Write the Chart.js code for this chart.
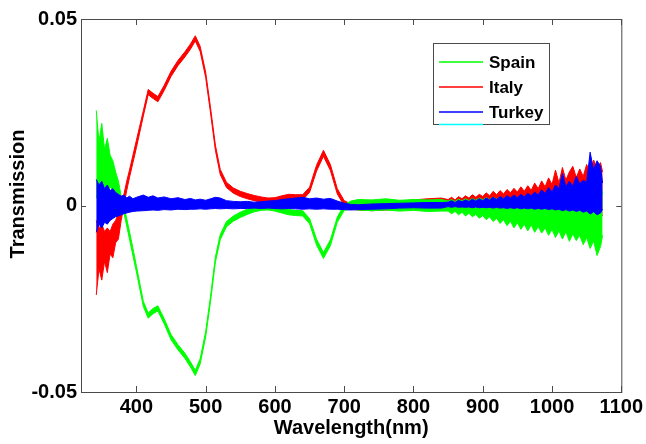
<!DOCTYPE html>
<html>
<head>
<meta charset="utf-8">
<title>Transmission spectra</title>
<script src="https://cdn.jsdelivr.net/npm/chart.js@4.4.1/dist/chart.umd.min.js"></script>
<style>
  html, body { margin: 0; padding: 0; background: #fff; }
  canvas { display: block; }
</style>
</head>
<body>
<canvas id="spectra" width="646" height="444"></canvas>
<script>
// Wavelength grid (nm): noisy start, smooth middle, noisy tail
const wavelengths = [
  342, 346, 350, 354, 358, 362, 366, 370, 374, 378, 382, 386, 390, 395, 400,
  410, 417, 424, 431, 440, 450, 460, 470, 478, 485, 492, 500, 507, 514, 521, 530,
  540, 550, 560, 570, 580, 590, 600, 610, 620, 630, 640, 650, 660, 670, 680, 690, 700,
  710, 720, 740, 760, 780, 800, 820, 840,
  850, 855, 860, 865, 870, 875, 880, 885, 890, 895, 900, 905, 910, 915, 920, 925,
  930, 935, 940, 945, 950, 955, 960, 965, 970, 975, 980, 985, 990, 995, 1000, 1005,
  1010, 1015, 1020, 1025, 1030, 1035, 1040, 1045, 1050, 1055, 1060, 1065, 1070, 1073
];

// Upper / lower edge of each bundle of spectra, in units of 1e-3
const spainHi = [
  25.5, 17, 22, 15, 18, 13.5, 12, 9, 6.5, 2.5, 0, -3.5, -7, -11.5, -16.2,
  -25.7, -28.8, -27.6, -26.9, -30.3, -34.6, -37.3, -39.6, -41.9, -44.2, -41.1, -33.8, -24.3, -13.8, -7.8, -4.3,
  -2.8, -1.8, -1.0, -0.3, 0.1, 0.2, -0.1, -0.6, -1.1, -1.3, -1.4, -3.5, -9.0, -12.6, -9.2, -3.1, 0.3,
  1.2, 1.6, 1.5, 1.8, 1.4, 1.6, 1.5, 1.6,
  1.2, 1.6, 1.1, 1.7, 1.2, 1.8, 1.3, 1.9, 1.4, 2.0, 1.5, 2.1, 1.6, 2.2, 1.7, 2.3,
  1.8, 2.4, 1.9, 2.6, 2.0, 2.7, 2.1, 2.8, 2.2, 3.0, 2.4, 3.2, 2.6, 3.4, 2.8, 3.8,
  3.0, 4.2, 3.2, 4.6, 3.5, 5.0, 4.0, 5.6, 4.4, 6.4, 7.6, 5.2, 6.0, 3.0
];
const spainLo = [
  2, 4, 3, 5, 4, 5, 4, 3, 1.5, -0.5, -2, -5.5, -9, -13.5, -17.8,
  -27.1, -30.2, -29.0, -28.3, -31.7, -36.0, -38.7, -41.0, -43.3, -45.6, -42.5, -35.2, -25.7, -15.2, -9.2, -5.7,
  -4.2, -3.2, -2.4, -1.7, -1.3, -1.2, -1.5, -2.0, -2.5, -2.7, -2.8, -4.9, -10.6, -14.2, -10.8, -4.5, -1.3,
  -1.0, -1.2, -1.4, -1.2, -1.5, -1.3, -1.6, -1.5,
  -1.5, -2.2, -1.6, -2.5, -1.8, -2.8, -2.1, -3.0, -2.4, -3.4, -2.7, -3.8, -3.0, -4.3, -3.4, -4.8,
  -3.8, -5.4, -4.2, -6.0, -4.6, -6.4, -5.0, -6.8, -5.2, -7.2, -5.6, -7.4, -6.0, -8.0, -6.4, -8.6,
  -6.8, -9.0, -7.0, -9.6, -7.6, -9.4, -8.0, -10.5, -8.6, -11.5, -9.5, -13.4, -11.0, -8.0
];
const italyHi = [
  -4, -6, -5, -7, -6, -7, -5, -4, -2, 1, 3, 6.5, 9.5, 13.5, 17.5,
  25.4, 31.1, 30.1, 29.2, 32.2, 36, 38.9, 41.2, 43.3, 45.5, 42.7, 35.7, 26.2, 16.2, 9.7, 6.2,
  4.7, 3.8, 3.2, 2.7, 2.3, 2.0, 2.1, 2.6, 3.0, 2.9, 2.9, 4.9, 10.8, 14.8, 11.0, 4.5, 1.3,
  0.4, 0.6, 0.5, 0.9, 1.1, 1.5, 1.8, 2.0,
  1.6, 2.2, 1.5, 2.4, 1.8, 2.6, 2.0, 2.9, 2.2, 3.0, 2.4, 3.4, 2.6, 3.8, 2.9, 4.0,
  3.1, 4.3, 3.4, 4.6, 3.6, 5.0, 3.8, 5.3, 4.1, 6.0, 4.5, 6.6, 5.0, 7.4, 5.6, 9.5,
  6.0, 10.2, 6.8, 9.0, 10.5, 7.5, 9.8, 7.8, 11.0, 8.5, 12.2, 10.0, 11.5, 9.0
];
const italyLo = [
  -24, -17, -20, -15, -18, -13, -14, -10, -9, -4, 0, 4, 7.5, 11.5, 15.5,
  24, 29.7, 28.7, 27.8, 30.8, 34.6, 37.5, 39.8, 41.9, 44.1, 41.3, 34.3, 24.8, 14.8, 8.3, 4.8,
  3.3, 2.4, 1.8, 1.3, 0.9, 0.6, 0.7, 1.2, 1.6, 1.5, 1.5, 3.5, 9.2, 13.2, 9.4, 3.1, -0.1,
  -1.0, -1.2, -1.4, -1.2, -1.0, -0.6, -0.4, -0.2,
  -0.3, -0.6, -0.2, -0.7, -0.4, -0.8, -0.5, -0.9, -0.6, -1.0, -0.7, -1.1, -0.8, -1.2, -0.9, -1.3,
  -1.0, -1.4, -1.1, -1.5, -1.2, -1.6, -1.3, -1.8, -1.4, -2.0, -1.6, -2.2, -1.8, -2.4, -2.0, -2.6,
  -2.2, -2.8, -2.4, -3.0, -2.6, -3.2, -2.8, -3.4, -3.0, -3.6, -3.2, -3.8, -3.4, -2.5
];
const turkeyHi = [
  7, 5.5, 6.5, 4.5, 5.5, 4, 4.5, 3.5, 3, 2.5, 2.8, 2, 2.5, 1.8, 2.2,
  2.8, 2.2, 2.6, 2.0, 2.3, 1.8, 2.1, 1.6, 1.9, 1.5, 1.7, 1.4, 1.8, 2.2, 2.0, 1.3,
  1.1, 1.0, 1.1, 0.9, 1.0, 1.2, 1.3, 1.6, 1.8, 2.0, 2.2, 1.8, 2.0, 1.7, 1.9, 1.2, 0.6,
  0.3, 0.2, 0.4, 0.5, 0.6, 0.7, 0.8, 0.8,
  0.9, 1.3, 0.8, 1.4, 1.0, 1.5, 1.1, 1.7, 1.2, 1.8, 1.3, 2.0, 1.5, 2.2, 1.6, 2.4,
  1.8, 2.6, 2.0, 2.8, 2.1, 3.0, 2.3, 3.3, 2.6, 3.6, 2.8, 4.2, 3.2, 4.8, 3.6, 5.5,
  4.5, 8.6, 5.0, 6.5, 5.2, 7.8, 5.8, 6.8, 6.2, 14.3, 9.5, 12.0, 10.5, 6.0
];
const turkeyLo = [
  -7.2, -5, -6, -4.5, -5, -4, -3.5, -3, -2.8, -2.5, -2.2, -2, -1.8, -1.6, -1.5,
  -1.4, -1.3, -1.2, -1.3, -1.1, -1.2, -1.0, -1.1, -1.0, -1.0, -0.9, -1.0, -0.9, -0.8, -0.9, -0.8,
  -0.9, -0.8, -0.8, -0.7, -0.8, -0.7, -0.8, -0.9, -0.8, -0.9, -1.0, -0.9, -1.0, -0.9, -1.0, -1.0, -1.1,
  -1.2, -1.1, -1.0, -0.9, -0.7, -0.6, -0.7, -0.7,
  -0.3, -0.5, -0.3, -0.5, -0.4, -0.5, -0.4, -0.6, -0.4, -0.6, -0.5, -0.6, -0.5, -0.7, -0.5, -0.7,
  -0.6, -0.8, -0.6, -0.8, -0.6, -0.9, -0.7, -0.9, -0.7, -1.0, -0.8, -1.0, -0.8, -1.1, -0.9, -1.2,
  -1.0, -1.4, -1.1, -1.5, -1.2, -1.6, -1.3, -1.8, -1.5, -2.3, -1.7, -2.5, -2.0, -1.0
];

const classNames = ['Spain', 'Italy', 'Turkey'];
const xTicks = [400, 500, 600, 700, 800, 900, 1000, 1100];
const yTicks = [-0.05, 0, 0.05];
const yTickLabels = ['-0.05', '0', '0.05'];

const colors = { Spain: '#00ff00', Italy: '#ff0000', Turkey: '#0000ff' };
const axisFont = { family: '"Liberation Sans", Arial, sans-serif', size: 20, weight: 'bold' };

function toPoints(values) {
    return values.map((v, i) => ({ x: wavelengths[i], y: v / 1000 }));
}

// each bundle: upper edge line, lower edge line filled up to the upper one
function bundle(name, hi, lo, order) {
    const c = colors[name];
    return [
        { label: name, data: toPoints(hi), borderColor: c, backgroundColor: c, order: order, fill: false },
        { label: name + ' low', data: toPoints(lo), borderColor: c, backgroundColor: c, order: order, fill: '-1' }
    ];
}

const datasets = [].concat(
    bundle('Italy', italyHi, italyLo, 3),
    bundle('Spain', spainHi, spainLo, 2),
    bundle('Turkey', turkeyHi, turkeyLo, 1)
);

// MATLAB style box, inward ticks, y title and legend
const frameAndLegend = {
    id: 'frameAndLegend',
    afterDraw(chart) {
        const { ctx, chartArea: a, scales: { x, y } } = chart;
        ctx.save();
        ctx.strokeStyle = '#4a4a4a';
        ctx.lineWidth = 1;
        ctx.strokeRect(a.left + 0.5, a.top + 0.5, a.right - a.left, a.bottom - a.top);
        ctx.beginPath();
        xTicks.forEach(v => {
            const px = Math.round(x.getPixelForValue(v)) + 0.5;
            ctx.moveTo(px, a.bottom); ctx.lineTo(px, a.bottom - 6);
            ctx.moveTo(px, a.top); ctx.lineTo(px, a.top + 6);
        });
        yTicks.forEach(v => {
            const py = Math.round(y.getPixelForValue(v)) + 0.5;
            ctx.moveTo(a.left, py); ctx.lineTo(a.left + 5, py);
            ctx.moveTo(a.right, py); ctx.lineTo(a.right - 5, py);
        });
        ctx.stroke();

        // y axis title
        ctx.fillStyle = '#000';
        ctx.font = 'bold 20px "Liberation Sans", Arial, sans-serif';
        ctx.textAlign = 'center';
        ctx.textBaseline = 'middle';
        ctx.translate(18, 194);
        ctx.rotate(-Math.PI / 2);
        ctx.fillText('Transmission', 0, 0);
        ctx.setTransform(1, 0, 0, 1, 0, 0);

        // legend
        const bx = 433, by = 43, bw = 116, bh = 81;
        ctx.fillStyle = '#fff';
        ctx.fillRect(bx, by, bw, bh);
        ctx.strokeStyle = '#4a4a4a';
        ctx.strokeRect(bx + 0.5, by + 0.5, bw, bh);
        ctx.font = 'bold 17px "Liberation Sans", Arial, sans-serif';
        ctx.textAlign = 'left';
        ctx.lineWidth = 1.5;
        classNames.forEach((name, i) => {
            const ly = by + 19 + i * 25;
            ctx.strokeStyle = colors[name];
            ctx.beginPath();
            ctx.moveTo(bx + 6, ly); ctx.lineTo(bx + 50, ly);
            ctx.stroke();
            ctx.fillStyle = '#000';
            ctx.fillText(name, bx + 56, ly + 1);
        });
        // clipped fourth entry peeking at the bottom edge
        ctx.strokeStyle = '#00ffff';
        ctx.beginPath();
        ctx.moveTo(bx + 6, by + bh + 0.5); ctx.lineTo(bx + 50, by + bh + 0.5);
        ctx.stroke();
        ctx.restore();
    }
};

new Chart(document.getElementById('spectra'), {
    type: 'line',
    data: { datasets: datasets },
    options: {
        responsive: false,
        animation: false,
        devicePixelRatio: 1,
        layout: { padding: { top: 19, right: 24, left: 0, bottom: 0 } },
        elements: {
            point: { radius: 0 },
            line: { borderWidth: 1, tension: 0 }
        },
        plugins: {
            legend: { display: false },
            tooltip: { enabled: false }
        },
        scales: {
            x: {
                type: 'linear',
                min: 320,
                max: 1100,
                afterBuildTicks: s => { s.ticks = xTicks.map(v => ({ value: v })); },
                afterFit: s => { s.height = 52; },
                grid: { display: false, drawTicks: false },
                border: { display: false },
                ticks: {
                    font: axisFont,
                    color: '#000',
                    padding: 3,
                    maxRotation: 0,
                    autoSkip: false,
                    callback: v => String(v)
                },
                title: { display: true, text: 'Wavelength(nm)', font: axisFont, color: '#000', padding: { top: 0, bottom: 4 } }
            },
            y: {
                min: -0.05,
                max: 0.05,
                afterBuildTicks: s => { s.ticks = yTicks.map(v => ({ value: v })); },
                afterFit: s => { s.width = 81; },
                grid: { display: false, drawTicks: false },
                border: { display: false },
                ticks: {
                    font: axisFont,
                    color: '#000',
                    padding: 4,
                    callback: v => yTickLabels[yTicks.indexOf(v)]
                }
            }
        }
    },
    plugins: [frameAndLegend]
});
</script>
</body>
</html>
